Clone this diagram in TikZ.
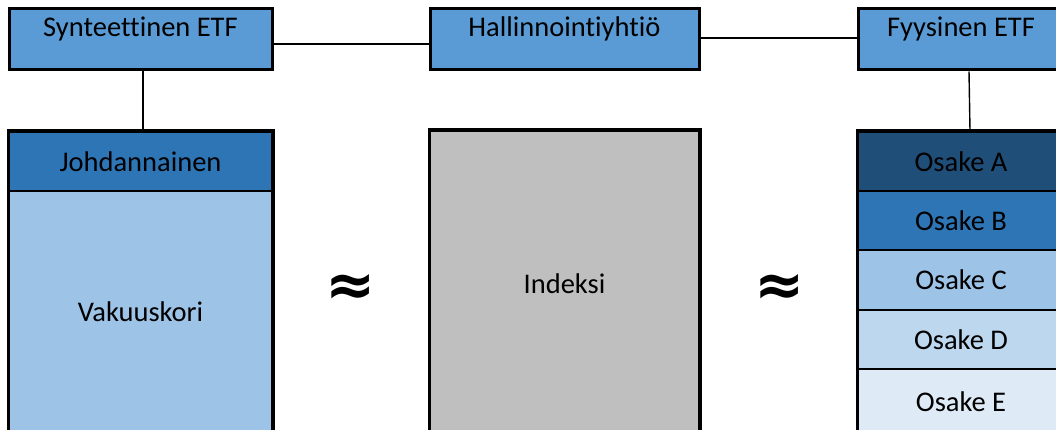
\documentclass[tikz,border=0pt]{standalone}
\usepackage{fontspec}
\setmainfont{Carlito}[Ligatures=NoCommon]
\newfontfamily\symfont{DejaVu Sans}
\definecolor{etfblue}{HTML}{5B9BD5}
\definecolor{midblue}{HTML}{2E75B6}
\definecolor{paleblue}{HTML}{9DC3E6}
\definecolor{lightblue}{HTML}{BDD7EE}
\definecolor{mistblue}{HTML}{DEEBF7}
\definecolor{navyblue}{HTML}{1F4E79}
\definecolor{indexgray}{HTML}{BFBFBF}
\begin{document}
\begin{tikzpicture}[x=1pt,y=-1pt,
  lbl/.style={font=\fontsize{28.5}{33}\selectfont, text=black},
  topbox/.style={lbl, draw=black, line width=3pt, fill=etfblue, inner sep=0pt,
    minimum height=61pt, text height=17pt, text depth=22pt},
  cell/.style={lbl, draw=black, line width=2pt, inner sep=0pt},
  frame/.style={draw=black, line width=3pt},
  conn/.style={draw=black, line width=1.4pt},
  approx/.style={font=\symfont\bfseries\fontsize{60}{70}\selectfont, text=black, inner sep=0pt}]
\useasboundingbox (0,0) rectangle (1056,430);
\clip (0,0) rectangle (1056,430);

% fund types and management company
\node[topbox, minimum width=263pt] (syn) at (140.5,39.5) {Synteettinen ETF};
\node[topbox, minimum width=269pt] (hal) at (564.5,39.5) {Hallinnointiyhtiö};
\node[topbox, minimum width=206pt] (fy)  at (961,39.5)   {Fyysinen ETF};

% synthetic ETF: derivative on top of the collateral basket
\node[cell, fill=midblue,  minimum width=263pt, minimum height=59pt]  (jo) at (140.5,161.5) {Johdannainen};
\node[cell, fill=paleblue, minimum width=263pt, minimum height=242pt] (va) at (140.5,312)   {Vakuuskori};
\draw[frame] (jo.north west) rectangle (va.south east);

% index
\node[cell, fill=indexgray, minimum width=269pt, minimum height=306pt] (ix) at (564.5,284) {Indeksi};
\draw[frame] (ix.north west) rectangle (ix.south east);

% physical ETF: stack of shares
\node[cell, fill=navyblue,  minimum width=206pt, minimum height=59pt] (osA) at (961,161.5) {Osake A};
\node[cell, fill=midblue,   minimum width=206pt, minimum height=59pt] (osB) at (961,220.5) {Osake B};
\node[cell, fill=paleblue,  minimum width=206pt, minimum height=60pt] (osC) at (961,280)   {Osake C};
\node[cell, fill=lightblue, minimum width=206pt, minimum height=59pt] (osD) at (961,339.5) {Osake D};
\node[cell, fill=mistblue,  minimum width=206pt, minimum height=65pt] (osE) at (961,401.5) {Osake E};
\draw[frame] (osA.north west) rectangle (osE.south east);

% approximately-equal signs
\node[approx] (ap1) at (351,290) {≈};
\node[approx] (ap2) at (780,290) {≈};

% connectors
\draw[conn] ([yshift=-4.5pt]syn.east) -- ([yshift=-4.5pt]hal.west);
\draw[conn] ([yshift=1.5pt]hal.east) -- ([yshift=1.5pt]fy.west);
\draw[conn] ([xshift=2.5pt]syn.south) -- ([xshift=2.5pt]jo.north);
\draw[conn] ([xshift=8pt]fy.south) -- ([xshift=9pt]osA.north);
\end{tikzpicture}
\end{document}
